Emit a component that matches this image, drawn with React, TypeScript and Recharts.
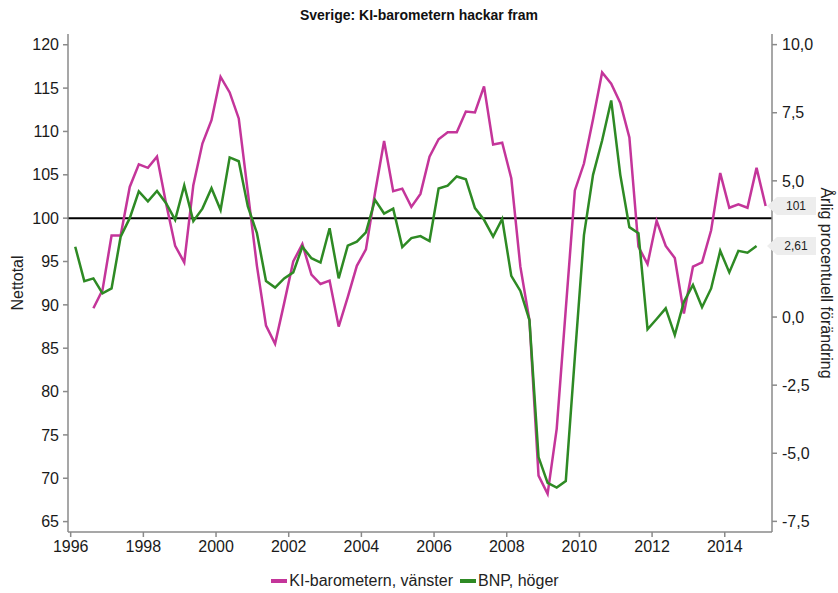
import React from "react";
import {
  LineChart,
  Line,
  XAxis,
  YAxis,
  ReferenceLine,
  ReferenceDot,
  Legend,
} from "recharts";

// Quarterly data. BNP: 1996 Q1 – 2014 Q4, KI-barometern: 1996 Q3 – 2015 Q1
const firstYear = 1996;
const quarterCount = 77; // 1996 Q1 .. 2015 Q1
const kiStartQuarter = 2; // KI starts at 1996 Q3

const bnpValues: number[] = [
  2.58, 1.32, 1.42, 0.87, 1.05, 2.95, 3.63, 4.61, 4.25, 4.63,
  4.18, 3.57, 4.83, 3.52, 3.98, 4.73, 3.93, 5.86, 5.72, 4.06,
  3.08, 1.32, 1.08, 1.42, 1.64, 2.58, 2.16, 2.0, 3.26, 1.42,
  2.62, 2.77, 3.11, 4.3, 3.8, 3.98, 2.57, 2.9, 2.97, 2.79,
  4.72, 4.82, 5.16, 5.06, 4.0, 3.57, 2.95, 3.6, 1.51, 0.96,
  -0.11, -5.14, -6.09, -6.26, -6.02, -1.46, 3.01, 5.22, 6.48, 7.95,
  5.22, 3.3, 3.08, -0.45, -0.07, 0.32, -0.66, 0.56, 1.18, 0.36,
  1.05, 2.43, 1.64, 2.43, 2.36, 2.61,
];

const kiValues: number[] = [
  89.6, 91.7, 98.0, 98.0, 103.6, 106.2, 105.8, 107.1, 101.7, 96.8,
  94.9, 103.8, 108.6, 111.3, 116.3, 114.5, 111.5, 103.0, 94.5, 87.6,
  85.5, 90.2, 95.0, 97.0, 93.5, 92.4, 92.8, 87.5, 90.9, 94.5,
  96.4, 102.9, 108.9, 103.1, 103.4, 101.3, 102.8, 107.1, 109.1, 109.9,
  109.9, 112.3, 112.2, 115.2, 108.5, 108.7, 104.6, 94.4, 88.2, 70.3,
  68.2, 75.7, 89.5, 103.2, 106.3, 111.4, 116.8, 115.5, 113.3, 109.3,
  96.7, 94.7, 99.7, 96.8, 95.4, 89.0, 94.4, 94.9, 98.6, 105.2,
  101.2, 101.6, 101.2, 105.8, 101.4,
];

const xTicks = [1996, 1998, 2000, 2002, 2004, 2006, 2008, 2010, 2012, 2014];
const leftTicks = [65, 70, 75, 80, 85, 90, 95, 100, 105, 110, 115, 120];
const rightTicks = [-7.5, -5, -2.5, 0, 2.5, 5, 7.5, 10];

const titleText = "Sverige: KI-barometern hackar fram";
const kiName = "KI-barometern, vänster";
const bnpName = "BNP, höger";
const leftLabel = "Nettotal";
const rightLabel = "Årlig procentuell förändring";

const PINK = "#c4359a";
const GREEN = "#2e8a24";
const AXIS = "#8a8a8a";
const FONT = "'Liberation Sans', Arial, sans-serif";

const xDomain: [number, number] = [1995.926, 2015.3];
const leftDomain: [number, number] = [63.8, 121.24];
const rightDomain: [number, number] = [-7.89, 10.39];

const rows = Array.from({ length: quarterCount }, (_, i) => {
  const ki = i - kiStartQuarter;
  return {
    x: firstYear + (i + 0.5) / 4,
    bnp: i < bnpValues.length ? bnpValues[i] : undefined,
    ki: ki >= 0 && ki < kiValues.length ? kiValues[ki] : undefined,
  };
});

const lastKi = kiValues[kiValues.length - 1];
const lastBnp = bnpValues[bnpValues.length - 1];

const fmtComma = (v: number, d: number) => v.toFixed(d).replace(".", ",");

const Tag = (props: any) => {
  const { cx, cy, text } = props;
  if (cx == null || cy == null) return null;
  const h = 9;
  const pts = [
    [cx - 5, cy],
    [cx + 5, cy - h],
    [cx + 44, cy - h],
    [cx + 44, cy + h],
    [cx + 5, cy + h],
  ]
    .map((p) => p.join(","))
    .join(" ");
  return (
    <g>
      <polygon points={pts} fill="#ededed" />
      <text
        x={cx + 24}
        y={cy + 4}
        textAnchor="middle"
        fontSize={12}
        fill="#222"
        fontFamily={FONT}
      >
        {text}
      </text>
    </g>
  );
};

// Right-axis tick: the label is hidden where the value tag covers it
const RightTick = (props: any) => {
  const { x, y, payload } = props;
  const v = payload?.value as number;
  if (Math.abs(v - lastBnp) < 0.5) return null;
  return (
    <text
      x={x}
      y={y}
      dy="0.355em"
      textAnchor="start"
      fontSize={16}
      fill="#1a1a1a"
      fontFamily={FONT}
    >
      {fmtComma(v, 1)}
    </text>
  );
};

const LegendContent = () => (
  <div
    style={{
      height: 24,
      display: "flex",
      justifyContent: "center",
      alignItems: "center",
      fontFamily: FONT,
      fontSize: 16,
      color: "#222",
      paddingRight: 8,
    }}
  >
    <span style={{ display: "inline-flex", alignItems: "center" }}>
      <span
        style={{
          display: "inline-block",
          width: 16,
          height: 4,
          background: PINK,
          marginRight: 2,
        }}
      />
      {kiName}
    </span>
    <span style={{ display: "inline-flex", alignItems: "center", marginLeft: 7 }}>
      <span
        style={{
          display: "inline-block",
          width: 16,
          height: 4,
          background: GREEN,
          marginRight: 2,
        }}
      />
      {bnpName}
    </span>
  </div>
);

const LeftAxisLabel = (props: any) => {
  const vb = props.viewBox || {};
  const cx = (vb.x ?? 0) + 17;
  const cy = (vb.y ?? 0) + (vb.height ?? 0) / 2;
  return (
    <text
      x={cx}
      y={cy}
      transform={`rotate(-90 ${cx} ${cy})`}
      textAnchor="middle"
      dominantBaseline="central"
      fontSize={16}
      fill="#222"
      fontFamily={FONT}
    >
      {leftLabel}
    </text>
  );
};

const RightAxisLabel = (props: any) => {
  const vb = props.viewBox || {};
  const cx = (vb.x ?? 0) + 54;
  const cy = (vb.y ?? 0) + (vb.height ?? 0) / 2;
  return (
    <text
      x={cx}
      y={cy}
      transform={`rotate(90 ${cx} ${cy})`}
      textAnchor="middle"
      dominantBaseline="central"
      fontSize={16}
      fill="#222"
      fontFamily={FONT}
    >
      {rightLabel}
    </text>
  );
};

export default function App() {
  return (
    <div
      style={{
        position: "absolute",
        left: 0,
        top: 0,
        width: 838,
        height: 593,
        background: "#fff",
        fontFamily: FONT,
      }}
    >
      <div
        style={{
          position: "absolute",
          top: 7,
          left: 0,
          width: 838,
          textAlign: "center",
          fontWeight: "bold",
          fontSize: 14,
          color: "#111",
          lineHeight: "16px",
        }}
      >
        {titleText}
      </div>
      <LineChart
        width={838}
        height={593}
        data={rows}
        margin={{ top: 34, right: 0, bottom: 0, left: 0 }}
      >
        <XAxis
          dataKey="x"
          type="number"
          domain={xDomain}
          ticks={xTicks}
          allowDataOverflow
          height={37}
          tickSize={5}
          tickMargin={4}
          axisLine={{ stroke: AXIS, strokeWidth: 1.5 }}
          tickLine={{ stroke: AXIS, strokeWidth: 1.5 }}
          tick={{ fill: "#1a1a1a", fontSize: 16, fontFamily: FONT }}
        />
        <XAxis
          xAxisId="top"
          dataKey="x"
          type="number"
          orientation="top"
          domain={xDomain}
          allowDataOverflow
          height={0}
          tick={false}
          tickLine={false}
          axisLine={{ stroke: AXIS, strokeWidth: 1.5 }}
        />
        <YAxis
          yAxisId="left"
          domain={leftDomain}
          ticks={leftTicks}
          allowDataOverflow
          width={68}
          tickSize={5}
          tickMargin={4}
          axisLine={{ stroke: AXIS, strokeWidth: 1.5 }}
          tickLine={{ stroke: AXIS, strokeWidth: 1.5 }}
          tick={{ fill: "#1a1a1a", fontSize: 16, fontFamily: FONT }}
          label={{ content: LeftAxisLabel }}
        />
        <YAxis
          yAxisId="right"
          orientation="right"
          domain={rightDomain}
          ticks={rightTicks}
          allowDataOverflow
          width={66}
          tickSize={5}
          tickMargin={5}
          axisLine={{ stroke: AXIS, strokeWidth: 1.5 }}
          tickLine={{ stroke: AXIS, strokeWidth: 1.5 }}
          tick={RightTick}
          label={{ content: RightAxisLabel }}
        />
        <ReferenceLine
          yAxisId="left"
          y={100}
          stroke="#000"
          strokeWidth={2}
        />
        <Line
          yAxisId="left"
          dataKey="ki"
          name={kiName}
          stroke={PINK}
          strokeWidth={2.5}
          dot={false}
          isAnimationActive={false}
        />
        <Line
          yAxisId="right"
          dataKey="bnp"
          name={bnpName}
          stroke={GREEN}
          strokeWidth={2.5}
          dot={false}
          isAnimationActive={false}
        />
        <ReferenceDot
          yAxisId="left"
          x={xDomain[1]}
          y={lastKi}
          ifOverflow="visible"
          shape={(p: any) => <Tag {...p} text={String(Math.round(lastKi))} />}
        />
        <ReferenceDot
          yAxisId="right"
          x={xDomain[1]}
          y={lastBnp}
          ifOverflow="visible"
          shape={(p: any) => <Tag {...p} text={fmtComma(lastBnp, 2)} />}
        />
        <Legend verticalAlign="bottom" content={LegendContent} />
      </LineChart>
    </div>
  );
}
